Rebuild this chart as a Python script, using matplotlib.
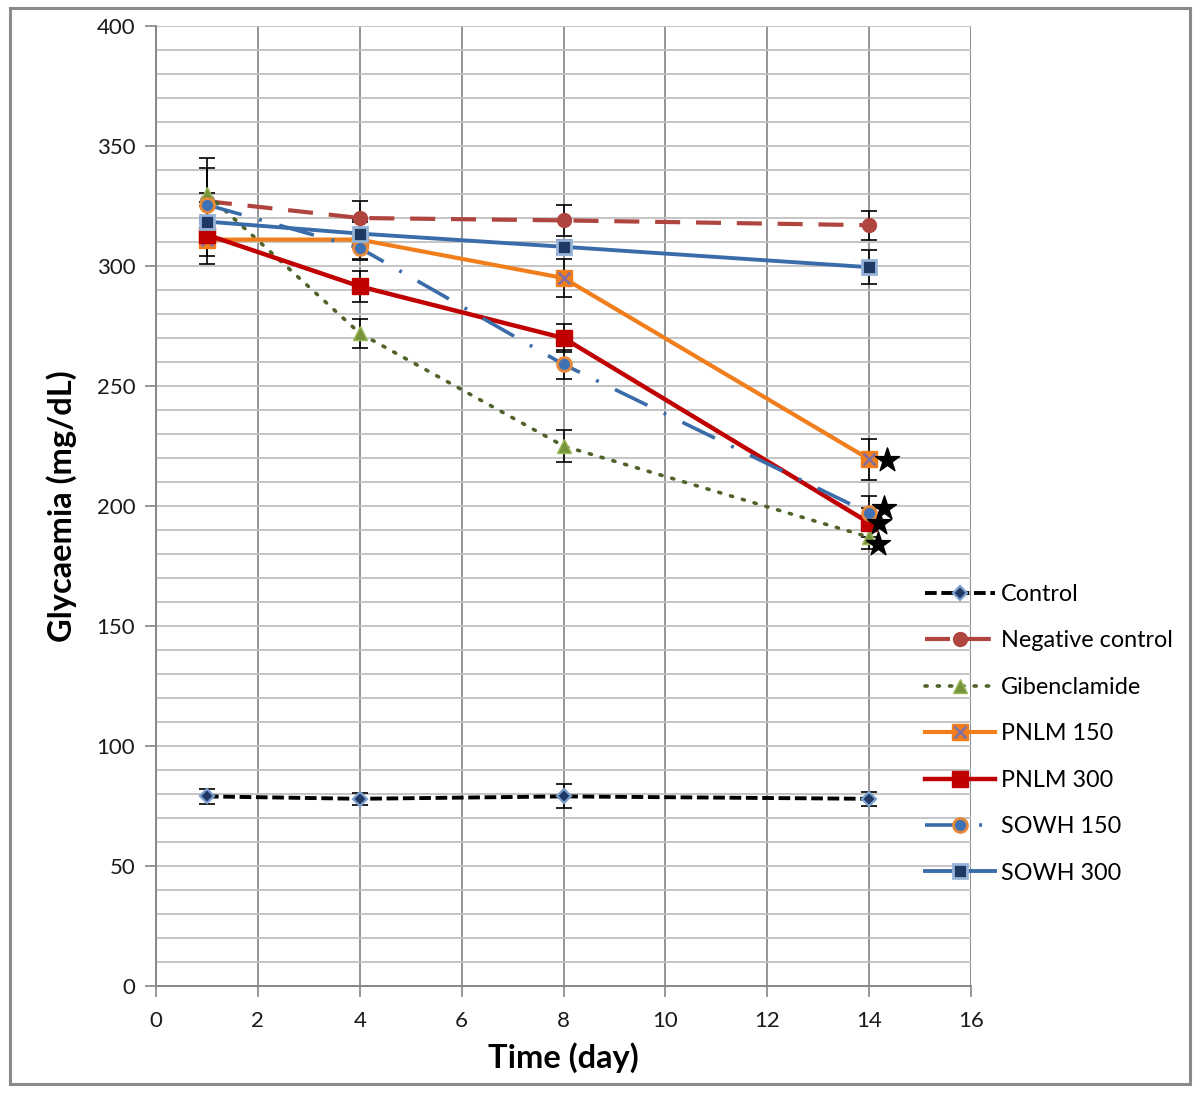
import matplotlib
matplotlib.use("Agg")
import matplotlib.pyplot as plt
from matplotlib.patches import Rectangle
from matplotlib.lines import Line2D
import numpy as np

plt.rcParams['font.family'] = ['Lato', 'DejaVu Sans']

days = [1, 4, 8, 14]
series_names = ["Control", "Negative control", "Gibenclamide", "PNLM 150",
                "PNLM 300", "SOWH 150", "SOWH 300"]

control = [79, 78, 79, 78]
control_err = [3, 2.5, 5, 3]
neg_control = [327, 320, 319, 317]
neg_control_err = [18, 7, 6.5, 6]
gibenclamide = [330, 272, 225, 187]
gibenclamide_err = [11, 6, 6.5, 5]
pnlm150 = [311, 311, 295, 219.5]
pnlm150_err = [7, 8, 8, 8.5]
pnlm300 = [313, 291.5, 270, 193]
pnlm300_err = [12, 6.5, 6, 6]
sowh150 = [325.5, 307.5, 259, 197]
sowh150_err = [5, 5, 6, 7]
sowh300 = [318.5, 313.5, 308, 299.5]
sowh300_err = [8, 5, 3, 7]

# significance stars at day 14 (x offset, y)
star_x = [14.35, 14.3, 14.2, 14.17]
star_y = [219, 199, 193, 184]

x_ticks = [0, 2, 4, 6, 8, 10, 12, 14, 16]
y_ticks = [0, 50, 100, 150, 200, 250, 300, 350, 400]

fig = plt.figure(figsize=(12, 10.94), dpi=100)
ax = fig.add_axes([156/1200, 1-986/1094, (971-156)/1200, (986-26)/1094])

# figure border
fig.patches.append(Rectangle((10/1200, 1-1084/1094), 1180/1200, 1076/1094,
                             transform=fig.transFigure, fill=False,
                             edgecolor='#8a8a8a', lw=2.2))

styles = [
    dict(data=control, err=control_err, color='black', ls=(0, (3.0, 1.2)), lw=2.8,
         marker='D', ms=7.5, mfc='#1F3864', mec='#7BA0CD', mew=1.6),
    dict(data=neg_control, err=neg_control_err, color='#B0453F', ls=(0, (6, 3.8)), lw=3.0,
         marker='o', ms=10, mfc='#B0453F', mec='#B0453F', mew=1),
    dict(data=gibenclamide, err=gibenclamide_err, color='#4F6228', ls=(0, (0.6, 2.8)), lw=2.6,
         marker='^', ms=10.5, mfc='#77933C', mec='#9BBB59', mew=1),
    dict(data=pnlm150, err=pnlm150_err, color='#F07E1C', ls='-', lw=3.0,
         marker='s', ms=11, mfc='#F07E1C', mec='#F07E1C', mew=1),
    dict(data=pnlm300, err=pnlm300_err, color='#C00000', ls='-', lw=3.2,
         marker='s', ms=11, mfc='#C00000', mec='#C00000', mew=1),
    dict(data=sowh150, err=sowh150_err, color='#3B6CAA', ls=(0, (10, 5, 0.8, 5)), lw=2.6,
         marker='o', ms=10, mfc='#3F72B5', mec='#E6893A', mew=2),
    dict(data=sowh300, err=sowh300_err, color='#3B6CAA', ls='-', lw=2.8,
         marker='s', ms=10, mfc='#1F3864', mec='#95B3D7', mew=2),
]

handles = []
for i, (name, st) in enumerate(zip(series_names, styles)):
    ax.errorbar(days, st['data'], yerr=st['err'], fmt='none', ecolor='black',
                elinewidth=1.2, capsize=5.5, capthick=1.2, zorder=3 + i * 0.1)
    ln, = ax.plot(days, st['data'], color=st['color'], ls=st['ls'], lw=st['lw'],
                  marker=st['marker'], ms=st['ms'], mfc=st['mfc'], mec=st['mec'],
                  mew=st['mew'], zorder=4 + i * 0.1, label=name,
                  dash_capstyle='round' if name == 'Gibenclamide' else 'butt')
    handles.append(ln)
    if name == "PNLM 150":
        ax.plot(days, st['data'], ls='none', marker='x', ms=8,
                mec='#7F6FA8', mew=1.8, zorder=4 + i * 0.1 + 0.05)

# X overlay for PNLM 150 legend
pnlm150_handle = (handles[3], Line2D([], [], ls='none', marker='x', ms=8,
                                     mec='#7F6FA8', mew=1.8))

ax.scatter(star_x, star_y, marker='*', s=330, color='black', zorder=10, clip_on=False)

ax.set_xlim(0, 16)
ax.set_ylim(0, 400)
ax.set_xticks(x_ticks)
ax.set_yticks(y_ticks)
ax.set_yticks(np.arange(0, 401, 10), minor=True)
ax.tick_params(axis='y', which='minor', length=0)
ax.tick_params(axis='both', which='major', direction='out', length=8, width=1.2,
               color='#868686', labelsize=16, labelcolor='#1a1a1a')
ax.tick_params(axis='x', which='major', pad=10)
ax.tick_params(axis='y', which='major', pad=7)
ax.grid(True, which='both', axis='y', color='#c0c0c0', lw=1.3, zorder=0)
ax.grid(True, which='major', axis='x', color='#8c8c8c', lw=1.3, zorder=0)
ax.set_axisbelow(True)
for s in ['top', 'right']:
    ax.spines[s].set_visible(False)
for s in ['left', 'bottom']:
    ax.spines[s].set_color('#868686')
    ax.spines[s].set_linewidth(1.4)
# right boundary gridline at 16
ax.axvline(16, color='#8c8c8c', lw=1.3, zorder=0)

ax.set_xlabel("Time (day)", fontsize=23.5, fontweight='bold', labelpad=8)
ax.set_ylabel("Glycaemia (mg/dL)", fontsize=23.5, fontweight='bold', labelpad=14)

leg_handles = handles[:3] + [pnlm150_handle] + handles[4:]
fig.legend(leg_handles, series_names, loc='upper left',
           bbox_to_anchor=(925/1200, 1-584/1094), bbox_transform=fig.transFigure,
           frameon=False, fontsize=16.8, numpoints=1, handlelength=3.0,
           handletextpad=0.25, labelspacing=1.09, borderpad=0, borderaxespad=0)

fig.savefig("out.png", dpi=100)
